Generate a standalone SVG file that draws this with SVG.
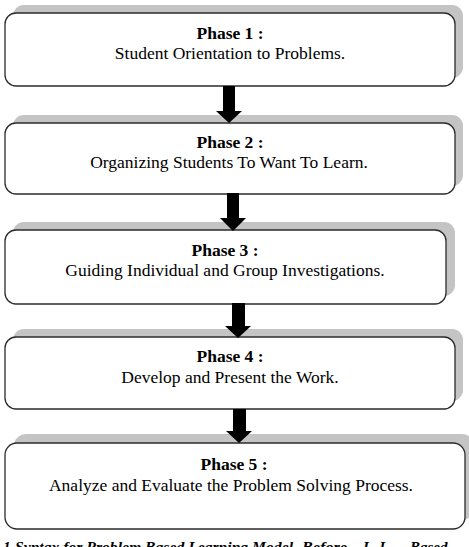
<svg xmlns="http://www.w3.org/2000/svg" width="469" height="547" viewBox="0 0 469 547">
<style>
.shadow{fill:#c4c4c4;stroke:none}
.box{fill:#ffffff;stroke:#2b2b2b;stroke-width:1.3}
.title{font-family:"Liberation Serif","Times New Roman",serif;font-size:17.5px;font-weight:bold;fill:#000;text-anchor:middle}
.desc{font-family:"Liberation Serif","Times New Roman",serif;font-size:17.5px;fill:#000;text-anchor:middle}
.arrow{fill:#000;stroke:none}
.caption{font-family:"Liberation Serif","Times New Roman",serif;font-size:15px;font-weight:bold;font-style:italic;fill:#000}
</style>
<rect width="469" height="547" fill="#ffffff"/>
<g id="phase1">
<rect class="shadow" x="13" y="5" width="450" height="73" rx="11"/>
<rect class="box" x="5" y="13" width="450" height="73" rx="11"/>
<text class="title" x="230" y="39">Phase 1 :</text>
<text class="desc" x="230" y="59">Student Orientation to Problems.</text>
</g>
<g id="phase2">
<rect class="shadow" x="13" y="115" width="450" height="71" rx="11"/>
<rect class="box" x="5" y="123" width="450" height="71" rx="11"/>
<text class="title" x="230" y="148">Phase 2 :</text>
<text class="desc" x="229" y="168">Organizing Students To Want To Learn.</text>
</g>
<g id="phase3">
<rect class="shadow" x="13" y="222" width="442" height="74" rx="11"/>
<rect class="box" x="5" y="230" width="441" height="74" rx="11"/>
<text class="title" x="225" y="256">Phase 3 :</text>
<text class="desc" x="225" y="276">Guiding Individual and Group Investigations.</text>
</g>
<g id="phase4">
<rect class="shadow" x="13" y="329" width="450" height="72" rx="11"/>
<rect class="box" x="5" y="337" width="450" height="72" rx="11"/>
<text class="title" x="230" y="362">Phase 4 :</text>
<text class="desc" x="230" y="383">Develop and Present the Work.</text>
</g>
<g id="phase5">
<rect class="shadow" x="14" y="434" width="460" height="86" rx="12"/>
<rect class="box" x="5" y="443" width="460" height="86" rx="12"/>
<text class="title" x="234" y="470">Phase 5 :</text>
<text class="desc" x="231" y="491">Analyze and Evaluate the Problem Solving Process.</text>
</g>
<g id="connectors">
<path class="arrow" d="M223,86 H235 V111 H242 L229,123 L216,111 H223 Z"/>
<path class="arrow" d="M227,193 H239 V218 H246 L233,231 L220,218 H227 Z"/>
<path class="arrow" d="M232,303 H245 V326 H251 L238,338 L225,326 H232 Z"/>
<path class="arrow" d="M233,409 H246 V431 H252 L239,443 L226,431 H233 Z"/>
</g>
<g id="caption">
<text class="caption" x="3" y="552">1</text>
<text class="caption" x="15" y="552" textLength="278" lengthAdjust="spacingAndGlyphs">Syntax for Problem Based Learning Model</text>
<text class="caption" x="302" y="552" textLength="45" lengthAdjust="spacingAndGlyphs">Before</text>
<text class="caption" x="363" y="552" textLength="30" lengthAdjust="spacing">I. L.</text>
<text class="caption" x="410" y="552">Based</text>
</g>
</svg>
